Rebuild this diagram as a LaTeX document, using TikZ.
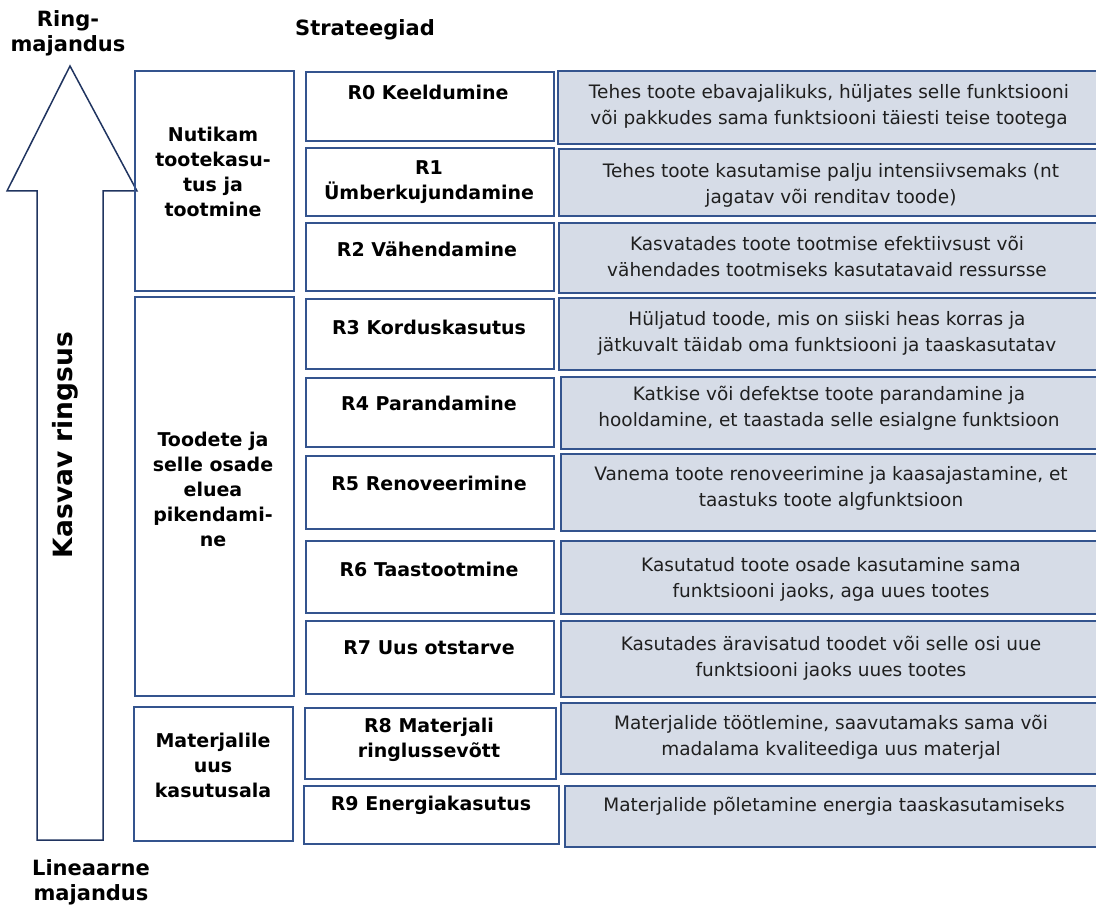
\documentclass[tikz,border=0pt]{standalone}
\usepackage{fontspec}
\setmainfont{DejaVu Sans}
\definecolor{boxblue}{RGB}{52,84,142}
\definecolor{descfill}{RGB}{214,220,231}
\definecolor{arrowblue}{RGB}{32,52,96}
\tikzset{
  catbox/.style={draw=boxblue, line width=1.8pt, anchor=north west, inner sep=0pt},
  stratbox/.style={draw=boxblue, line width=1.8pt, anchor=north west, inner sep=0pt, minimum width=248pt},
  descbox/.style={draw=boxblue, fill=descfill, line width=2.2pt, anchor=north west, inner sep=0pt},
  boldtxt/.style={font=\fontsize{19}{25}\selectfont\bfseries, align=center, inner sep=0pt},
  headtxt/.style={font=\fontsize{21}{25}\selectfont\bfseries, align=center, inner sep=0pt},
  desctxt/.style={font=\fontsize{18.5}{26}\selectfont, align=center, inner sep=0pt, text=black!88}
}
\begin{document}
\begin{tikzpicture}[x=1pt, y=-1pt]
		\useasboundingbox (0,0) rectangle (1096,909);
		
		% Arrow
		\draw[arrowblue, line width=1.5pt, line join=miter]
			(37,840) -- (37,191) -- (7,191) -- (70,66) -- (137,191) -- (103,191) -- (103,840) -- cycle;
		\node[boldtxt, font=\fontsize{26.5}{30}\selectfont\bfseries, rotate=90] (grow) at (65,445) {Kasvav ringsus};
		\node[headtxt] (circ) at (68,33) {Ring-\\majandus};
		\node[headtxt] (lin) at (91,882) {Lineaarne\\majandus};
		\node[headtxt] (head) at (365,30) {Strateegiad};
		
		% Categories
		\node[catbox, minimum width=159pt, minimum height=220pt] (cat1) at (134,70) {};
		\node[boldtxt] (cat1t) at (213,172) {Nutikam\\tootekasu-\\tus ja\\tootmine};
		\node[catbox, minimum width=159pt, minimum height=399pt] (cat2) at (134,296) {};
		\node[boldtxt] (cat2t) at (213,489) {Toodete ja\\selle osade\\eluea\\pikendami-\\ne};
		\node[catbox, minimum width=159pt, minimum height=134pt] (cat3) at (133,706) {};
		\node[boldtxt] (cat3t) at (213,765) {Materjalile\\uus\\kasutusala};
		
		% Strategies
		\node[stratbox, minimum height=69pt] (r0) at (305,71) {};
		\node[boldtxt] (r0t) at (428,92) {R0 Keeldumine};
		\node[stratbox, minimum height=68pt] (r1) at (305,147) {};
		\node[boldtxt] (r1t) at (429,182) {R1\\Ümberkujundamine};
		\node[stratbox, minimum height=68pt] (r2) at (305,222) {};
		\node[boldtxt] (r2t) at (427,249) {R2 Vähendamine};
		\node[stratbox, minimum height=70pt] (r3) at (305,298) {};
		\node[boldtxt] (r3t) at (429,327) {R3 Korduskasutus};
		\node[stratbox, minimum height=69pt] (r4) at (305,377) {};
		\node[boldtxt] (r4t) at (429,403) {R4 Parandamine};
		\node[stratbox, minimum height=73pt] (r5) at (305,455) {};
		\node[boldtxt] (r5t) at (429,483) {R5 Renoveerimine};
		\node[stratbox, minimum height=72pt] (r6) at (305,540) {};
		\node[boldtxt] (r6t) at (429,569) {R6 Taastootmine};
		\node[stratbox, minimum height=73pt] (r7) at (305,620) {};
		\node[boldtxt] (r7t) at (429,648) {R7 Uus otstarve};
		\node[stratbox, minimum height=71pt, minimum width=251pt] (r8) at (304,707) {};
		\node[boldtxt] (r8t) at (429,740) {R8 Materjali\\ringlussevõtt};
		\node[stratbox, minimum height=58pt, minimum width=255pt] (r9) at (303,785) {};
		\node[boldtxt] (r9t) at (431,805) {R9 Energiakasutus};
		
		% Descriptions
		\node[descbox, minimum width=545pt, minimum height=73pt] (d0) at (557,70) {};
		\node[desctxt] (d0t) at (829,106) {Tehes toote ebavajalikuks, hüljates selle funktsiooni\\või pakkudes sama funktsiooni täiesti teise tootega};
		\node[descbox, minimum width=544pt, minimum height=67pt] (d1) at (558,148) {};
		\node[desctxt] (d1t) at (831,185) {Tehes toote kasutamise palju intensiivsemaks (nt\\jagatav või renditav toode)};
		\node[descbox, minimum width=544pt, minimum height=70pt] (d2) at (558,222) {};
		\node[desctxt] (d2t) at (827,256) {Kasvatades toote tootmise efektiivsust või\\vähendades tootmiseks kasutatavaid ressursse};
		\node[descbox, minimum width=544pt, minimum height=72pt] (d3) at (558,297) {};
		\node[desctxt] (d3t) at (827,333) {Hüljatud toode, mis on siiski heas korras ja\\jätkuvalt täidab oma funktsiooni ja taaskasutatav};
		\node[descbox, minimum width=542pt, minimum height=72pt] (d4) at (560,376) {};
		\node[desctxt] (d4t) at (829,408) {Katkise või defektse toote parandamine ja\\hooldamine, et taastada selle esialgne funktsioon};
		\node[descbox, minimum width=542pt, minimum height=77pt] (d5) at (560,453) {};
		\node[desctxt] (d5t) at (831,488) {Vanema toote renoveerimine ja kaasajastamine, et\\taastuks toote algfunktsioon};
		\node[descbox, minimum width=542pt, minimum height=73pt] (d6) at (560,540) {};
		\node[desctxt] (d6t) at (831,579) {Kasutatud toote osade kasutamine sama\\funktsiooni jaoks, aga uues tootes};
		\node[descbox, minimum width=542pt, minimum height=76pt] (d7) at (560,620) {};
		\node[desctxt] (d7t) at (831,658) {Kasutades äravisatud toodet või selle osi uue\\funktsiooni jaoks uues tootes};
		\node[descbox, minimum width=542pt, minimum height=71pt] (d8) at (560,702) {};
		\node[desctxt] (d8t) at (831,737) {Materjalide töötlemine, saavutamaks sama või\\madalama kvaliteediga uus materjal};
		\node[descbox, minimum width=538pt, minimum height=61pt] (d9) at (564,785) {};
		\node[desctxt] (d9t) at (834,806) {Materjalide põletamine energia taaskasutamiseks};
	\end{tikzpicture}
\end{document}
